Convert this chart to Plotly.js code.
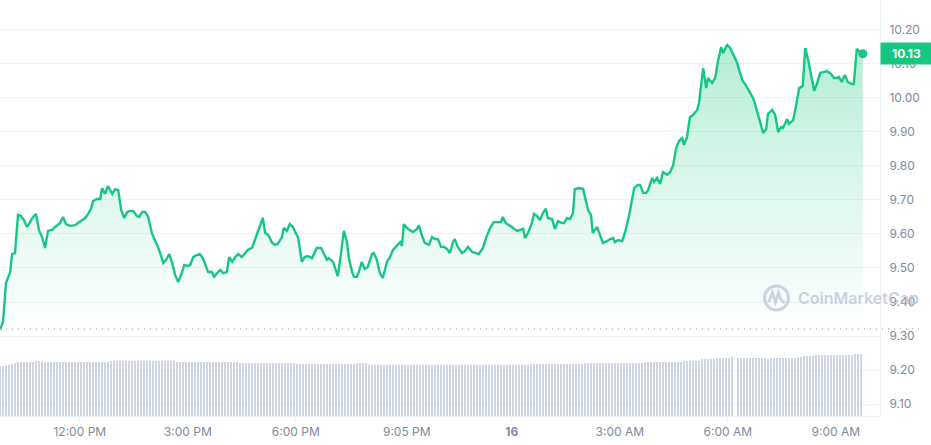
<!DOCTYPE html>
<html>
<head>
<meta charset="utf-8">
<script src="https://cdn.plot.ly/plotly-3.0.1.min.js"></script>
<style>html,body{margin:0;padding:0;background:#fff;}#chart{width:931px;height:445px;}</style>
</head>
<body>
<div id="chart"></div>
<script>
// Price series: time in minutes since 00:00 on the 15th, price in USD
const priceTimes = [
587,592,597,604,607,612,617,622,627,632,637,642,647,652,657,662,667,674,677,682,
687,692,697,704,712,717,724,729,734,739,742,749,754,757,762,767,774,779,784,789,
794,799,804,809,815,819,824,829,834,840,845,849,854,859,864,869,874,879,884,890,
894,899,904,909,915,920,925,930,934,940,944,949,954,959,965,969,974,979,984,990,
995,1000,1007,1015,1020,1025,1029,1034,1040,1045,1050,1057,1060,1065,1070,1075,1080,1084,1090,1095,
1100,1107,1115,1122,1132,1135,1142,1145,1150,1155,1160,1165,1169,1174,1177,1182,1185,1190,1195,1200,
1207,1210,1215,1220,1225,1232,1237,1242,1249,1254,1257,1260,1265,1270,1275,1282,1285,1290,1295,1302,
1307,1312,1317,1322,1327,1332,1337,1342,1345,1350,1357,1362,1367,1374,1379,1385,1392,1397,1404,1410,
1415,1422,1425,1430,1437,1442,1449,1454,1459,1462,1467,1474,1477,1482,1487,1492,1497,1500,1507,1512,
1517,1524,1527,1532,1537,1542,1545,1552,1559,1562,1567,1572,1575,1582,1587,1592,1599,1604,1609,1612,
1617,1624,1629,1635,1644,1650,1654,1659,1664,1667,1674,1677,1682,1687,1692,1699,1704,1709,1714,1719,
1724,1727,1732,1737,1742,1749,1752,1759,1764,1767,1774,1779,1784,1789,1792,1799,1804,1809,1815,1820,
1825,1830,1835,1842,1845,1850,1855,1859,1864,1867,1874,1879,1884,1889,1892,1899,1902,1909,1914,1919,
1925,1929,1934,1940,1944,1949,1954,1959,1965,1972,1977,1982,1985,1990,1995,2000,2007,2010,2015,2019,
2025
];
const prices = [
9.318,9.341,9.456,9.488,9.541,9.544,9.656,9.653,9.641,9.621,9.635,9.650,9.659,9.612,9.591,9.559,9.609,9.612,9.618,9.626,
9.632,9.650,9.629,9.624,9.626,9.632,9.641,9.647,9.659,9.676,9.697,9.703,9.703,9.735,9.718,9.741,9.718,9.732,9.729,9.671,
9.647,9.665,9.668,9.668,9.653,9.650,9.665,9.665,9.650,9.603,9.582,9.568,9.544,9.515,9.524,9.541,9.515,9.479,9.459,9.485,
9.509,9.506,9.509,9.532,9.538,9.541,9.529,9.509,9.488,9.488,9.474,9.485,9.494,9.485,9.488,9.532,9.518,9.532,9.541,9.532,
9.544,9.553,9.559,9.597,9.626,9.647,9.603,9.597,9.576,9.568,9.571,9.591,9.618,9.609,9.629,9.621,9.603,9.588,9.518,9.532,
9.535,9.529,9.559,9.559,9.524,9.529,9.518,9.500,9.476,9.538,9.609,9.579,9.524,9.488,9.474,9.474,9.488,9.518,9.497,9.503,
9.541,9.544,9.524,9.485,9.471,9.518,9.532,9.553,9.568,9.576,9.565,9.629,9.618,9.612,9.606,9.615,9.626,9.597,9.574,9.568,
9.591,9.585,9.585,9.562,9.562,9.556,9.544,9.576,9.585,9.562,9.544,9.550,9.562,9.547,9.544,9.541,9.559,9.588,9.618,9.635,
9.635,9.635,9.650,9.632,9.624,9.618,9.609,9.612,9.615,9.588,9.603,9.635,9.659,9.653,9.641,9.662,9.674,9.647,9.644,9.615,
9.638,9.632,9.632,9.647,9.644,9.662,9.732,9.735,9.732,9.709,9.671,9.656,9.603,9.621,9.597,9.574,9.579,9.585,9.588,9.576,
9.582,9.579,9.606,9.650,9.735,9.744,9.744,9.721,9.721,9.729,9.765,9.753,9.765,9.747,9.782,9.774,9.782,9.803,9.853,9.874,
9.882,9.862,9.885,9.944,9.950,9.965,9.985,10.088,10.029,10.059,10.044,10.059,10.112,10.150,10.132,10.156,10.147,10.129,10.106,10.076,
10.050,10.038,10.021,10.000,9.985,9.953,9.929,9.897,9.909,9.953,9.965,9.950,9.900,9.915,9.912,9.938,9.924,9.935,9.979,10.029,
10.035,10.147,10.112,10.062,10.021,10.044,10.074,10.076,10.079,10.071,10.059,10.059,10.062,10.047,10.068,10.047,10.041,10.041,10.144,10.138,
10.130
];
const openPrice = 9.321;

// Volume bars (24h volume, $M), one per 5 minutes
const volumeTimes = [
587,592,597,602,607,612,617,622,627,632,637,642,
647,652,657,662,667,672,677,682,687,692,697,702,
707,712,717,722,727,732,737,742,747,752,757,762,
767,772,777,782,787,792,797,802,807,812,817,822,
827,832,837,842,847,852,857,862,867,872,877,882,
887,892,897,902,907,912,917,922,927,932,937,942,
947,952,957,962,967,972,977,982,987,992,997,1002,
1007,1012,1017,1022,1027,1032,1037,1042,1047,1052,1057,1062,
1067,1072,1077,1082,1087,1092,1097,1102,1107,1112,1117,1122,
1127,1132,1137,1142,1147,1152,1157,1162,1167,1172,1177,1182,
1187,1192,1197,1202,1207,1212,1217,1222,1227,1232,1237,1242,
1247,1252,1257,1262,1267,1272,1277,1282,1287,1292,1297,1302,
1307,1312,1317,1322,1327,1332,1337,1342,1347,1352,1357,1362,
1367,1372,1377,1382,1387,1392,1397,1402,1407,1412,1417,1422,
1427,1432,1437,1442,1447,1452,1457,1462,1467,1472,1477,1482,
1487,1492,1497,1502,1507,1512,1517,1522,1527,1532,1537,1542,
1547,1552,1557,1562,1567,1572,1577,1582,1587,1592,1597,1602,
1607,1612,1617,1622,1627,1632,1637,1642,1647,1652,1657,1662,
1667,1672,1677,1682,1687,1692,1697,1702,1707,1712,1717,1722,
1727,1732,1737,1742,1747,1752,1757,1762,1767,1772,1777,1782,
1787,1792,1797,1802,1807,1812,1817,1822,1827,1832,1837,1842,
1847,1852,1857,1862,1867,1872,1877,1882,1887,1892,1897,1902,
1907,1912,1917,1922,1927,1932,1937,1942,1947,1952,1957,1962,
1967,1972,1977,1982,1987,1992,1997,2002,2007,2012,2017,2022
];
const volumes = [
200,201,203,205,208,212,215,215,215,215,215,215,
220,220,220,215,215,215,215,215,215,215,215,215,
215,215,215,215,215,215,215,215,215,215,215,215,
215,220,220,220,220,220,220,220,220,220,220,220,
220,220,220,220,220,220,220,220,220,220,220,216,
216,216,216,216,216,216,216,216,216,216,216,216,
216,216,216,216,216,216,216,216,212,212,212,212,
212,212,212,212,212,212,212,212,212,212,212,212,
212,212,212,209,209,209,209,209,209,209,209,209,
209,209,209,209,209,209,209,209,209,209,209,212,
212,212,212,203,203,203,203,203,203,203,203,203,
203,203,203,203,203,203,203,203,203,203,203,203,
203,203,203,203,203,203,203,203,203,203,203,203,
203,203,203,203,203,203,203,203,203,203,203,203,
203,205,205,205,205,205,205,205,205,208,208,208,
208,208,208,208,208,208,208,208,208,208,208,208,
208,208,208,212,212,212,212,212,212,212,212,212,
212,212,212,212,212,212,212,212,212,212,212,216,
216,216,216,216,216,216,216,216,216,216,216,216,
220,220,220,220,220,220,227,227,227,227,227,232,
232,232,232,232,236,null,232,232,232,232,232,232,
232,232,232,232,228,232,232,232,232,232,232,232,
232,232,236,236,240,240,240,240,244,244,244,244,
244,244,244,244,244,244,244,244,244,248,248,248
];

// Axis labels
const yTicks = [9.1,9.2,9.3,9.4,9.5,9.6,9.7,9.8,9.9,10.0,10.1,10.2];
const xTickVals = [720,900,1080,1265,1440,1620,1800,1980];
const xTickText = ['12:00 PM','3:00 PM','6:00 PM','9:05 PM','<b>16</b>','3:00 AM','6:00 AM','9:00 AM'];

const GREEN = '#16c784';
const GREY = '#808a9d';
const GRID = '#eff2f5';
const last = prices.length - 1;

const traces = [
  {
    type: 'bar', x: volumeTimes, y: volumes, yaxis: 'y2', width: 3.3,
    marker: {color: '#cfd5e6', line: {width: 0}}, hoverinfo: 'skip'
  },
  {
    type: 'scatter', mode: 'lines', x: priceTimes, y: prices,
    line: {color: GREEN, width: 2.4, shape: 'linear'},
    fill: 'tozeroy',
    fillgradient: {
      type: 'vertical', start: 9.3, stop: 10.2,
      colorscale: [[0, 'rgba(22,199,132,0)'], [0.35, 'rgba(22,199,132,0.10)'], [1, 'rgba(22,199,132,0.34)']]
    },
    hoverinfo: 'skip'
  },
  {
    type: 'scatter', mode: 'markers', x: [priceTimes[last]], y: [prices[last]],
    marker: {color: GREEN, size: 9}, hoverinfo: 'skip'
  }
];

const layout = {
  width: 931, height: 445,
  margin: {l: 0, r: 51, t: 0, b: 29, pad: 0},
  paper_bgcolor: '#ffffff', plot_bgcolor: '#ffffff',
  showlegend: false, hovermode: false, bargap: 0,
  font: {family: 'Inter, "Noto Sans", sans-serif', size: 12, color: GREY},
  xaxis: {
    type: 'linear', range: [587, 2053.7],
    tickmode: 'array', tickvals: xTickVals, ticktext: xTickText,
    showgrid: false, zeroline: false,
    showline: true, linecolor: GRID, linewidth: 1,
    ticks: 'outside', ticklen: 5, tickcolor: GRID,
    tickfont: {size: 12, color: GREY}, fixedrange: true
  },
  yaxis: {
    side: 'right', range: [9.0647, 10.2882],
    tickmode: 'array', tickvals: yTicks, tickformat: '.2f',
    showgrid: true, gridcolor: GRID, gridwidth: 1, zeroline: false,
    showline: true, linecolor: GRID, linewidth: 1,
    ticks: '', ticklabelstandoff: 6,
    tickfont: {size: 12, color: GREY}, fixedrange: true
  },
  yaxis2: {
    overlaying: 'y', side: 'right', range: [0, 1664],
    visible: false, showgrid: false, zeroline: false, fixedrange: true
  },
  shapes: [
    {
      type: 'line', xref: 'paper', yref: 'y', x0: 0, x1: 1.048, y0: openPrice, y1: openPrice,
      line: {color: '#a7adbb', width: 1.2, dash: '1px,5px'}, layer: 'above'
    },
    {
      type: 'circle', xref: 'paper', yref: 'paper', xsizemode: 'pixel', ysizemode: 'pixel',
      xanchor: 0.8824, yanchor: 0.2837, x0: -12, x1: 12, y0: -12, y1: 12,
      line: {color: 'rgba(190,197,216,0.75)', width: 3}
    },
    {
      type: 'path', xref: 'paper', yref: 'paper', xsizemode: 'pixel', ysizemode: 'pixel',
      xanchor: 0.8824, yanchor: 0.2837,
      path: 'M -8,-4 L -4,5 L -1,-4 L 2,5 L 4,-1 L 8,-5',
      line: {color: 'rgba(190,197,216,0.75)', width: 2.8}
    }
  ],
  annotations: [
    {
      xref: 'paper', yref: 'paper', x: 0.9045, y: 0.2837, xanchor: 'left', yanchor: 'middle',
      text: 'CoinMarketCap', showarrow: false,
      font: {family: 'Inter, "Noto Sans", sans-serif', size: 16, color: 'rgba(185,193,214,0.75)', weight: 600}
    },
    {
      xref: 'paper', yref: 'y', x: 1, y: prices[last], xanchor: 'left', yanchor: 'middle',
      text: '<b>' + prices[last].toFixed(2) + '</b>', showarrow: false,
      bgcolor: GREEN, width: 43, height: 13, borderpad: 4, align: 'center',
      font: {family: 'Inter, "Noto Sans", sans-serif', size: 12, color: '#ffffff'}
    }
  ]
};

Plotly.newPlot('chart', traces, layout, {displayModeBar: false, staticPlot: true});
</script>
</body>
</html>
